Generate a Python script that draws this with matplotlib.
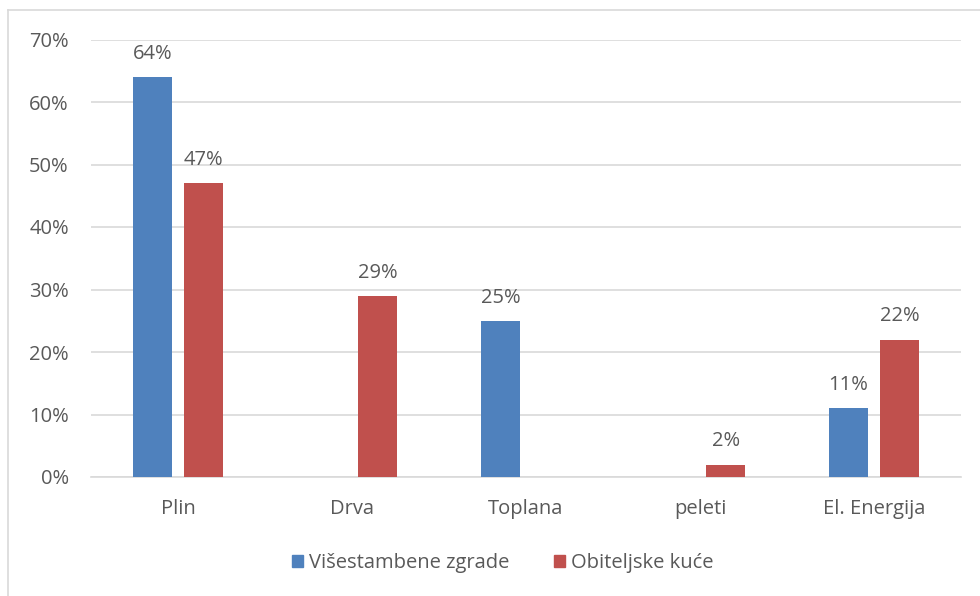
import matplotlib
matplotlib.use("Agg")
import matplotlib.pyplot as plt
import numpy as np
from matplotlib.lines import Line2D
from matplotlib.patches import Patch

categories = ["Plin", "Drva", "Toplana", "peleti", "El. Energija"]
visestambene = [64, None, 25, None, 11]
obiteljske = [47, 29, None, 2, 22]
series_names = ["Višestambene zgrade", "Obiteljske kuće"]
yticks = [0, 10, 20, 30, 40, 50, 60, 70]

blue = "#4F81BD"
red = "#C0504D"
txt = "#595959"
grid = "#D9D9D9"

plt.rcParams['font.family'] = ['Open Sans', 'DejaVu Sans']
fs = 14.5

fig = plt.figure(figsize=(9.8, 5.96), dpi=100)
ax = fig.add_axes([91/980, 1-477/596, 870/980, (477-39.5)/596])

x = np.arange(len(categories))
w = 0.224
off = 0.147
for vals, sign, col in [(visestambene, -1, blue), (obiteljske, 1, red)]:
    for i, v in enumerate(vals):
        if v is None:
            continue
        ax.bar(x[i] + sign*off, v, width=w, color=col, zorder=3)
        ax.annotate(f"{v}%", (x[i] + sign*off, v), xytext=(0, 9.5), textcoords="offset points",
                    ha="center", va="bottom", fontsize=fs, color=txt)

ax.set_xlim(-0.5, len(categories) - 0.5)
ax.set_ylim(0, 70)
ax.set_yticks(yticks)
ax.set_yticklabels([f"{t}%" for t in yticks])
ax.set_xticks(x)
ax.set_xticklabels(categories)
ax.grid(axis="y", color=grid, linewidth=1.2, zorder=0)
ax.set_axisbelow(True)
for s in ["top", "right", "left"]:
    ax.spines[s].set_visible(False)
ax.spines["bottom"].set_color(grid)
ax.spines["bottom"].set_linewidth(1.2)
ax.tick_params(axis="both", length=0, colors=txt, labelsize=fs)
ax.tick_params(axis="y", pad=16)
ax.tick_params(axis="x", pad=16)

handles = [Patch(color=blue), Patch(color=red)]
fig.legend(handles, series_names, loc="center", bbox_to_anchor=(503/980, 1-563/596),
           ncol=2, frameon=False, fontsize=fs, labelcolor=txt,
           handlelength=0.55, handleheight=0.55, handletextpad=0.3, columnspacing=2.2)

fig.add_artist(Line2D([8/980, 1], [1-10/596, 1-10/596], color=grid, linewidth=1.2, transform=fig.transFigure))
fig.add_artist(Line2D([8/980, 8/980], [0, 1-10/596], color=grid, linewidth=1.2, transform=fig.transFigure))

fig.savefig("out.png", dpi=100, facecolor="white")
